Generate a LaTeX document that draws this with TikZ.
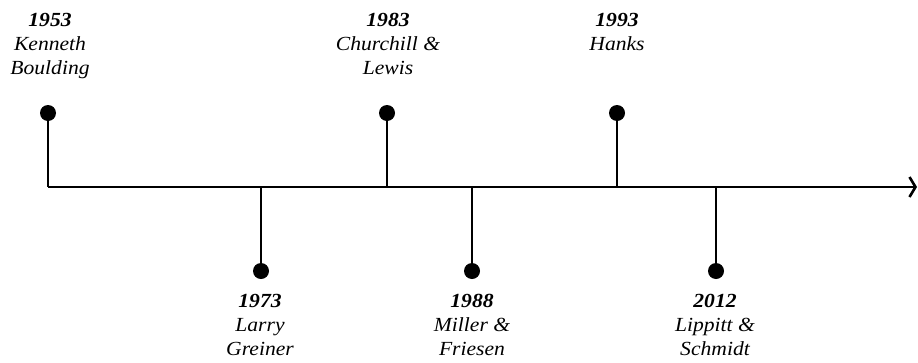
\documentclass[tikz,border=0pt]{standalone}
\usepackage{fontspec}
\setmainfont{Liberation Serif}[FakeStretch=1.08]
\usetikzlibrary{arrows.meta}
\begin{document}
\begin{tikzpicture}[x=1pt,y=-1pt,
  axis/.style={line width=2.6pt,-{Straight Barb[length=6pt,width=20pt,line width=2.6pt]}},
  stem/.style={line width=2pt},
  dot/.style={circle,fill=black,inner sep=0pt,minimum size=16pt},
  era/.style={align=center,inner sep=0pt,anchor=north,font=\fontsize{20}{24}\selectfont\itshape}]
  \useasboundingbox (0,0) rectangle (918,362);
  % time axis
  \coordinate (start) at (48,187);
  \coordinate (end) at (917,187);
  \draw[axis] (start) -- (end);
  % milestones above the axis
  \foreach \n/\x in {a/48,c/387,e/617}{
    \node[dot] (d\n) at (\x,113) {};
    \coordinate (b\n) at (\x,187);
    \draw[stem] (d\n) -- (b\n);
  }
  % milestones below the axis
  \foreach \n/\x in {b/261,d/472,f/716}{
    \node[dot] (d\n) at (\x,271) {};
    \coordinate (b\n) at (\x,187);
    \draw[stem] (d\n) -- (b\n);
  }
  % labels
  \node[era] (la) at (50,13) {\textbf{1953}\\Kenneth\\Boulding};
  \node[era] (lc) at (388,13) {\textbf{1983}\\Churchill \&\\Lewis};
  \node[era] (le) at (617,13) {\textbf{1993}\\Hanks};
  \node[era] (lb) at (260,294) {\textbf{1973}\\Larry\\Greiner};
  \node[era] (ld) at (472,294) {\textbf{1988}\\Miller \&\\Friesen};
  \node[era] (lf) at (715,294) {\textbf{2012}\\Lippitt \&\\Schmidt};
\end{tikzpicture}
\end{document}
